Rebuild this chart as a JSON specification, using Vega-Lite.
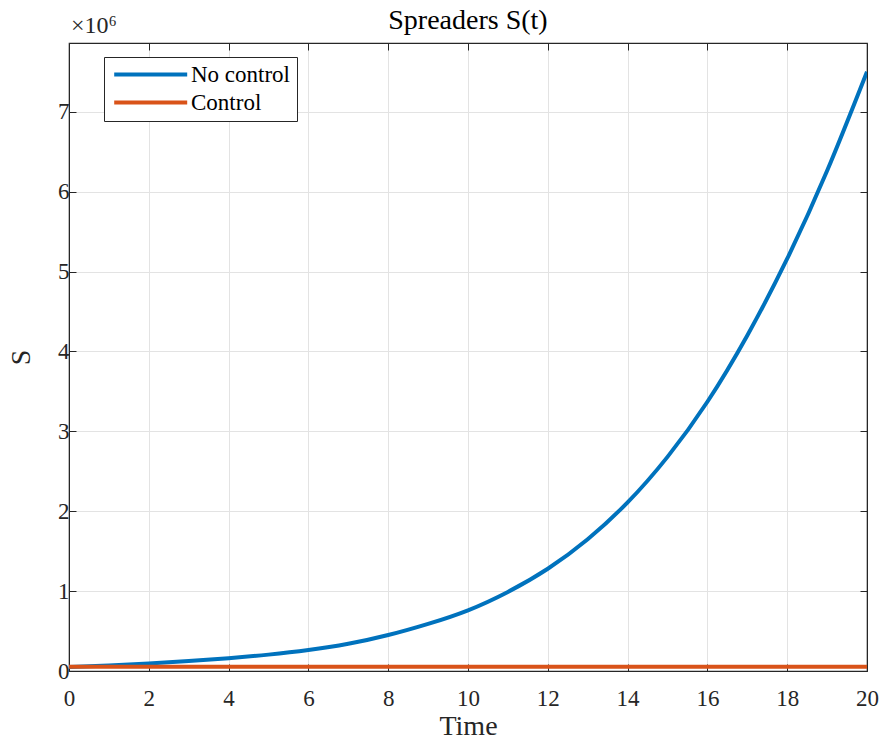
{
  "$schema": "https://vega.github.io/schema/vega-lite/v6.json",
  "width": 798,
  "height": 628,
  "autosize": {"type": "none"},
  "padding": {"left": 69, "top": 43, "right": 16, "bottom": 70},
  "background": "white",
  "title": {"text": "Spreaders S(t)", "font": "Liberation Serif", "fontSize": 28, "fontWeight": "normal", "color": "#000000", "offset": -21},
  "config": {
    "view": {"stroke": "#262626", "strokeWidth": 1.2},
    "axis": {
      "labelFont": "Liberation Serif", "labelFontSize": 23, "labelColor": "#262626", "labelFlush": false,
      "titleFont": "Liberation Serif", "titleFontSize": 28, "titleFontWeight": "normal", "titleColor": "#262626",
      "domainColor": "#262626", "tickColor": "#262626", "gridColor": "#e3e3e3", "gridWidth": 1
    }
  },
  "data": {"values": [
    {"t": 0, "S": 50000, "series": "No control"},
    {"t": 1, "S": 70000, "series": "No control"},
    {"t": 2, "S": 95000, "series": "No control"},
    {"t": 3, "S": 125000, "series": "No control"},
    {"t": 4, "S": 160000, "series": "No control"},
    {"t": 5, "S": 205000, "series": "No control"},
    {"t": 6, "S": 262000, "series": "No control"},
    {"t": 7, "S": 340000, "series": "No control"},
    {"t": 8, "S": 450000, "series": "No control"},
    {"t": 9, "S": 590000, "series": "No control"},
    {"t": 10, "S": 760000, "series": "No control"},
    {"t": 11, "S": 990000, "series": "No control"},
    {"t": 12, "S": 1280000, "series": "No control"},
    {"t": 13, "S": 1650000, "series": "No control"},
    {"t": 14, "S": 2110000, "series": "No control"},
    {"t": 15, "S": 2680000, "series": "No control"},
    {"t": 16, "S": 3370000, "series": "No control"},
    {"t": 17, "S": 4200000, "series": "No control"},
    {"t": 18, "S": 5160000, "series": "No control"},
    {"t": 19, "S": 6260000, "series": "No control"},
    {"t": 20, "S": 7500000, "series": "No control"},
    {"t": 0, "S": 54000, "series": "Control"},
    {"t": 5, "S": 54000, "series": "Control"},
    {"t": 10, "S": 54000, "series": "Control"},
    {"t": 15, "S": 54000, "series": "Control"},
    {"t": 20, "S": 54000, "series": "Control"}
  ]},
  "resolve": {"axis": {"x": "independent", "y": "independent"}},
  "layer": [
    {
      "mark": {"type": "line", "strokeWidth": 4, "interpolate": "natural", "clip": true},
      "encoding": {
        "x": {"field": "t", "type": "quantitative", "scale": {"domain": [0, 20], "nice": false, "zero": false},
              "axis": {"title": "Time", "values": [0,2,4,6,8,10,12,14,16,18,20], "tickSize": -7, "labelPadding": 23, "titlePadding": 2, "grid": true}},
        "y": {"field": "S", "type": "quantitative", "scale": {"domain": [0, 7860000], "nice": false},
              "axis": {"title": "S", "values": [0,1000000,2000000,3000000,4000000,5000000,6000000,7000000], "labelExpr": "format(datum.value/1000000,'d')", "tickSize": -7, "labelPadding": 7, "titlePadding": 22, "grid": true}},
        "color": {"field": "series", "type": "nominal", "sort": ["No control", "Control"],
                  "scale": {"domain": ["No control", "Control"], "range": ["#0072BD", "#D95319"]},
                  "legend": {"title": null, "orient": "none", "legendX": 35, "legendY": 14,
                             "symbolType": "M-0.8,0H7.2", "symbolSize": 333, "symbolStrokeWidth": 4,
                             "labelFont": "Liberation Serif", "labelFontSize": 23, "labelColor": "#000000",
                             "labelOffset": 58, "strokeColor": "#262626", "fillColor": "white", "padding": 6, "rowPadding": 4, "cornerRadius": 0}},
        "order": {"field": "series"}
      }
    },
    {
      "mark": {"type": "line", "opacity": 0},
      "encoding": {
        "x": {"field": "t", "type": "quantitative", "axis": {"orient": "top", "title": null, "labels": false, "values": [0,2,4,6,8,10,12,14,16,18,20], "tickSize": -7, "grid": false}},
        "y": {"field": "S", "type": "quantitative", "axis": {"orient": "right", "title": null, "labels": false, "values": [0,1000000,2000000,3000000,4000000,5000000,6000000,7000000], "tickSize": -7, "grid": false}}
      }
    },
    {
      "data": {"values": [{"label": "×10⁶", "t": 0, "S": 7860000}]},
      "mark": {"type": "text", "align": "left", "baseline": "alphabetic", "dx": 2, "dy": -10, "font": "Liberation Serif", "fontSize": 24, "color": "#262626"},
      "encoding": {
        "x": {"field": "t", "type": "quantitative", "axis": null},
        "y": {"field": "S", "type": "quantitative", "axis": null},
        "text": {"field": "label"}
      }
    }
  ]
}
